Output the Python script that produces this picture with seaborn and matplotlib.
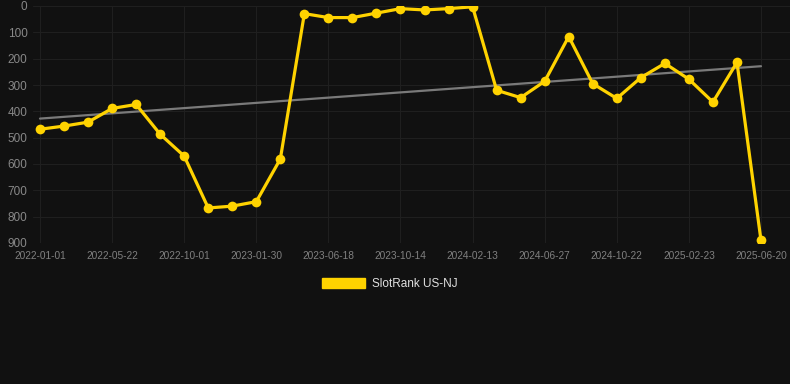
import numpy as np
import pandas as pd
import matplotlib
matplotlib.use('Agg')
import matplotlib.pyplot as plt
import matplotlib.patches as mpatches
import seaborn as sns

# ── data ─────────────────────────────────────────────────────────────────────
tick_labels = ['2022-01-01', '2022-05-22', '2022-10-01', '2023-01-30', '2023-06-18',
               '2023-10-14', '2024-02-13', '2024-06-27', '2024-10-22', '2025-02-23',
               '2025-06-20']
rank = [468, 456, 441, 389, 374, 487, 570, 767, 760, 743, 581,
        29, 44, 44, 27, 10, 15, 10, 3,
        320, 348, 286, 116, 295, 351, 272, 218, 278, 365, 214, 890]
series_name = 'SlotRank US-NJ'

BG = '#111111'
GOLD = '#FFD300'

df = pd.DataFrame({'pos': np.arange(len(rank)), 'rank': rank})

# trend line (least squares over the points)
coef = np.polyfit(df['pos'], df['rank'], 1)
df['trend'] = np.polyval(coef, df['pos'])

# ── style ────────────────────────────────────────────────────────────────────
sns.set_theme(style='dark')
plt.rcParams.update({
    'font.family': ['Liberation Sans', 'DejaVu Sans'],
    'figure.facecolor': BG,
    'axes.facecolor': BG,
})

fig = plt.figure(figsize=(7.9, 3.84), dpi=100, facecolor=BG)
ax = fig.add_axes([33 / 790, 1 - 243 / 384, 757 / 790, 237 / 384])

sns.lineplot(data=df, x='pos', y='trend', ax=ax, color='#7a7a7a', linewidth=1.6, zorder=2)
sns.lineplot(data=df, x='pos', y='rank', ax=ax, color=GOLD, linewidth=2.3,
             marker='o', markersize=7, markeredgewidth=0, zorder=3)

ax.set_ylim(900, 0)
ax.set_xlim(-7 / 24.03, 30 + 29 / 24.03)
ax.set_yticks(range(0, 901, 100))
ax.set_xticks(np.arange(0, len(rank), 3))
ax.set_xticklabels(tick_labels)
ax.tick_params(axis='y', colors='#888888', labelsize=8.5, length=0, pad=4)
ax.tick_params(axis='x', colors='#808080', labelsize=7.3, length=4, width=0.8,
               pad=2, color='#262626')
ax.grid(True, color='#1f1f1f', linewidth=0.8)
for s in ax.spines.values():
    s.set_visible(False)
ax.set_xlabel('')
ax.set_ylabel('')

handle = mpatches.Patch(facecolor=GOLD, edgecolor=GOLD, label=series_name)
fig.legend(handles=[handle], loc='center', bbox_to_anchor=(390 / 790, 1 - 284 / 384),
           frameon=False, fontsize=8.5, labelcolor='#e0e0e0',
           handlelength=3.6, handleheight=1.0, handletextpad=0.6)

fig.savefig('out.png', dpi=100, facecolor=BG)
